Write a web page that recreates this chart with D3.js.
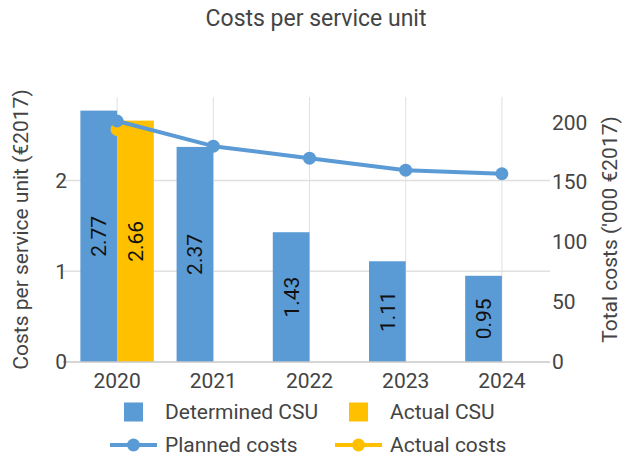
<!DOCTYPE html>
<html>
<head>
<meta charset="utf-8">
<script src="https://cdn.jsdelivr.net/npm/d3@7"></script>
<style>
  body { margin: 0; background: #fff; }
  text { font-family: Roboto, "Noto Sans", sans-serif; }
</style>
</head>
<body>
<svg width="625" height="462"></svg>
<script>
// chart data
const years = ["2020", "2021", "2022", "2023", "2024"];
const determinedCSU = [2.77, 2.37, 1.43, 1.11, 0.95];
const actualCSU = [2.66, null, null, null, null];
const plannedCosts = [201, 180, 170, 160, 157];
const actualCosts = [194, null, null, null, null];
const leftTicks = [0, 1, 2];
const rightTicks = [0, 50, 100, 150, 200];

const blue = "#5b9bd5", yellow = "#ffc000", grid = "#e0e0e0", txt = "#444";
const fs = 21;

var svg = d3.select("svg"),
    width = +svg.attr("width"),
    height = +svg.attr("height");

const m = {left: 69, right: 550, top: 97, bottom: 362};

const x = d3.scaleBand().domain(years).range([m.left, m.right]);
const xSub = d3.scaleBand().domain(["det", "act"])
    .range([0, x.bandwidth()]).paddingOuter(0.31);
const yL = d3.scaleLinear().domain([0, 2.92]).range([m.bottom, m.top]);
const yR = d3.scaleLinear().domain([0, 221]).range([m.bottom, m.top]);

// title
svg.append("text")
    .attr("x", 316).attr("y", 18).attr("dy", "0.35em")
    .attr("text-anchor", "middle")
    .attr("font-size", 23).attr("fill", txt)
    .text("Costs per service unit");

// gridlines
let g = svg.append("g");
g.selectAll(".hgrid").data(leftTicks.slice(1)).enter().append("line")
    .attr("x1", m.left - 6).attr("x2", m.right)
    .attr("y1", d => yL(d)).attr("y2", d => yL(d))
    .attr("stroke", grid).attr("stroke-width", 1.5);
g.selectAll(".vgrid").data(years).enter().append("line")
    .attr("x1", d => x(d) + x.bandwidth() / 2).attr("x2", d => x(d) + x.bandwidth() / 2)
    .attr("y1", m.top).attr("y2", m.bottom)
    .attr("stroke", grid).attr("stroke-width", 1);

// bars
let rows = years.map((y, i) => ({year: y, det: determinedCSU[i], act: actualCSU[i]}));
let bars = [];
rows.forEach(d => {
    bars.push({year: d.year, key: "det", v: d.det, c: blue});
    if (d.act != null) bars.push({year: d.year, key: "act", v: d.act, c: yellow});
});
svg.append("g").selectAll("rect").data(bars).enter().append("rect")
    .attr("x", d => x(d.year) + xSub(d.key))
    .attr("width", xSub.bandwidth())
    .attr("y", d => yL(d.v))
    .attr("height", d => yL(0) - yL(d.v))
    .attr("fill", d => d.c);

svg.append("g").selectAll("text").data(bars).enter().append("text")
    .attr("transform", function (d) {
        let cx = x(d.year) + xSub(d.key) + xSub.bandwidth() / 2;
        let cy = (yL(d.v) + yL(0)) / 2;
        return "translate(" + cx + "," + cy + ") rotate(-90)";
    })
    .attr("text-anchor", "middle").attr("dy", "0.35em")
    .attr("font-size", fs).attr("fill", "#111")
    .text(d => d.v.toFixed(2));

// bottom axis line
svg.append("line")
    .attr("x1", m.left - 6).attr("x2", m.right)
    .attr("y1", m.bottom).attr("y2", m.bottom)
    .attr("stroke", "#c8c8c8").attr("stroke-width", 1.5);

// lines
const cx = d => x(d) + x.bandwidth() / 2;
function drawSeries(vals, color) {
    let pts = years.map((y, i) => ({year: y, v: vals[i]})).filter(d => d.v != null);
    svg.append("path").datum(pts)
        .attr("fill", "none").attr("stroke", color).attr("stroke-width", 4)
        .attr("stroke-linejoin", "round")
        .attr("d", d3.line().x(d => cx(d.year)).y(d => yR(d.v)));
    svg.append("g").selectAll("circle").data(pts).enter().append("circle")
        .attr("cx", d => cx(d.year)).attr("cy", d => yR(d.v))
        .attr("r", 6.5).attr("fill", color);
}
drawSeries(actualCosts, yellow);
drawSeries(plannedCosts, blue);

// axes labels
svg.append("g").selectAll("text").data(leftTicks).enter().append("text")
    .attr("x", m.left - 2).attr("y", d => yL(d)).attr("dy", "0.35em")
    .attr("text-anchor", "end").attr("font-size", fs).attr("fill", txt)
    .text(d => d);
svg.append("g").selectAll("text").data(rightTicks).enter().append("text")
    .attr("x", m.right + 2).attr("y", d => yR(d)).attr("dy", "0.35em")
    .attr("text-anchor", "start").attr("font-size", fs).attr("fill", txt)
    .text(d => d);
svg.append("g").selectAll("text").data(years).enter().append("text")
    .attr("x", d => cx(d)).attr("y", m.bottom + 19).attr("dy", "0.35em")
    .attr("text-anchor", "middle").attr("font-size", fs).attr("fill", txt)
    .text(d => d);

let midY = (m.top + m.bottom) / 2;
svg.append("text")
    .attr("transform", "translate(28," + midY + ") rotate(-90)")
    .attr("text-anchor", "middle").attr("font-size", fs).attr("fill", txt)
    .text("Costs per service unit (€2017)");
svg.append("text")
    .attr("transform", "translate(617," + midY + ") rotate(-90)")
    .attr("text-anchor", "middle").attr("font-size", fs).attr("fill", txt)
    .text("Total costs ('000 €2017)");

// legend
const legendItems = [
    {label: "Determined CSU", type: "rect", c: blue, x: 124, y: 412},
    {label: "Actual CSU", type: "rect", c: yellow, x: 349, y: 412},
    {label: "Planned costs", type: "line", c: blue, x: 124, y: 445},
    {label: "Actual costs", type: "line", c: yellow, x: 349, y: 445}
];
let leg = svg.append("g").selectAll("g").data(legendItems).enter().append("g")
    .attr("transform", d => "translate(" + d.x + "," + d.y + ")");
leg.filter(d => d.type === "rect").append("rect")
    .attr("x", 0).attr("y", -9.5).attr("width", 19).attr("height", 19)
    .attr("fill", d => d.c);
leg.filter(d => d.type === "line").append("line")
    .attr("x1", -14).attr("x2", 33).attr("y1", 0).attr("y2", 0)
    .attr("stroke", d => d.c).attr("stroke-width", 4);
leg.filter(d => d.type === "line").append("circle")
    .attr("cx", 9.5).attr("cy", 0).attr("r", 6.5).attr("fill", d => d.c);
leg.append("text")
    .attr("x", 41).attr("y", 0).attr("dy", "0.35em")
    .attr("font-size", fs).attr("fill", txt)
    .text(d => d.label);
</script>
</body>
</html>
